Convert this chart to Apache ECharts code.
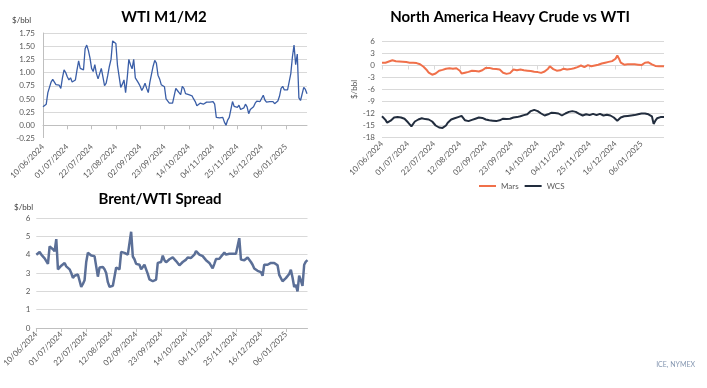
<!DOCTYPE html>
<html><head><meta charset="utf-8">
<script src="https://cdn.jsdelivr.net/npm/echarts@6/dist/echarts.min.js"></script>
<style>html,body{margin:0;padding:0;background:#fff}#c{width:707px;height:388px}</style>
</head><body><div id="c"></div>
<script>
// Business-day categories starting Monday 10/06/2024
const startDate = '2024-06-10';
const nDays = 164;
function businessDays(startIso, count) {
  const out = [];
  const d = new Date(startIso + 'T00:00:00Z');
  while (out.length < count) {
    const wd = d.getUTCDay();
    if (wd !== 0 && wd !== 6) {
      out.push(String(d.getUTCDate()).padStart(2, '0') + '/' + String(d.getUTCMonth() + 1).padStart(2, '0') + '/' + d.getUTCFullYear());
    }
    d.setUTCDate(d.getUTCDate() + 1);
  }
  return out;
}
const categories = businessDays(startDate, nDays);
const wtiYMin = -0.25;

const wtiM1M2 = [
  0.35,0.36,0.40,0.62,0.72,0.82,0.87,0.86,0.77,0.77,
  0.76,0.70,0.90,1.05,1.00,0.92,0.86,0.90,0.82,0.81,
  0.86,1.05,1.22,1.08,1.05,1.05,1.45,1.52,1.42,1.28,
  1.08,1.02,1.15,0.98,0.88,0.86,1.08,0.92,0.75,0.80,
  0.95,1.12,1.25,1.60,1.60,1.55,1.13,1.15,0.72,0.78,
  0.86,0.62,0.90,1.25,1.15,1.07,1.25,0.90,0.87,0.80,
  0.74,0.66,0.72,0.80,0.70,0.62,0.82,0.97,1.12,1.23,
  1.18,0.95,0.88,0.77,0.75,0.73,0.50,0.48,0.42,0.44,
  0.42,0.45,0.70,0.66,0.62,0.58,0.74,0.70,0.60,0.58,
  0.58,0.57,0.56,0.50,0.45,0.37,0.40,0.42,0.40,0.40,
  0.40,0.44,0.43,0.44,0.45,0.45,0.40,0.15,0.12,0.14,
  0.17,0.15,0.06,0.00,0.10,0.15,0.13,0.45,0.36,0.35,
  0.34,0.38,0.30,0.27,0.33,0.40,0.35,0.22,0.30,0.32,
  0.35,0.42,0.46,0.44,0.45,0.48,0.57,0.48,0.44,0.45,
  0.45,0.47,0.45,0.41,0.43,0.46,0.55,0.70,0.74,0.67,
  0.66,0.67,0.65,0.98,1.30,1.52,1.15,1.35,0.52,0.47,
  0.48,0.72,0.68,0.60
];

const mars = [
  0.67,0.6,0.7,0.9,1.0,1.2,1.3,1.1,1.05,1.0,
  1.0,1.0,0.95,0.9,0.85,0.85,0.7,0.7,0.7,0.7,
  0.6,0.55,0.3,0.0,-0.3,-0.6,-1.2,-1.8,-2.2,-2.3,
  -2.2,-2.0,-1.8,-1.3,-1.2,-1.1,-0.9,-0.8,-0.7,-0.7,
  -0.6,-0.8,-0.9,-0.7,-1.0,-1.3,-2.0,-2.2,-1.8,-1.8,
  -1.6,-1.5,-1.3,-1.4,-1.4,-1.4,-1.5,-1.5,-1.2,-0.8,
  -0.6,-0.5,-0.6,-0.7,-0.8,-0.8,-0.9,-0.9,-1.0,-1.3,
  -1.8,-2.3,-2.1,-1.9,-1.9,-1.7,-1.0,-1.0,-1.2,-1.1,
  -1.0,-1.1,-1.2,-1.25,-1.3,-1.4,-1.4,-1.5,-1.55,-1.6,
  -1.65,-1.8,-1.85,-1.6,-1.5,-1.0,-0.8,-0.2,-0.6,-0.9,
  -1.2,-1.3,-1.25,-1.2,-1.0,-0.8,-0.7,-1.0,-1.0,-0.9,
  -0.8,-0.7,-0.6,-0.4,-0.2,0.0,0.2,-0.4,0.0,0.1,
  0.2,-0.2,-0.1,0.0,0.0,0.2,0.4,0.5,0.6,0.7,
  0.8,0.9,1.0,1.1,1.3,1.7,2.5,1.7,0.7,0.3,
  0.2,0.3,0.3,0.3,0.3,0.3,0.3,0.2,0.2,0.0,
  0.1,0.3,0.7,0.8,0.8,0.6,0.3,0.0,-0.1,-0.2,
  -0.2,-0.2,-0.2,-0.2
];

const wcs = [
  -12.7,-13.0,-13.6,-14.3,-14.0,-13.8,-13.4,-13.0,-12.9,-12.9,
  -12.9,-13.0,-13.0,-13.3,-13.7,-14.2,-14.7,-15.2,-15.0,-14.0,
  -13.7,-13.5,-13.4,-13.2,-13.3,-13.4,-13.3,-13.5,-13.75,-14.0,
  -14.3,-15.0,-15.3,-15.5,-15.6,-15.6,-15.7,-15.0,-14.3,-13.8,
  -13.5,-13.4,-13.2,-13.0,-12.9,-12.7,-12.6,-12.3,-13.7,-13.9,
  -13.9,-13.8,-13.6,-13.4,-13.3,-13.3,-13.0,-12.9,-13.1,-13.2,
  -13.5,-13.6,-13.7,-13.8,-13.8,-13.9,-13.9,-13.8,-13.7,-13.7,
  -13.3,-13.5,-13.4,-13.3,-13.3,-13.1,-13.0,-13.0,-12.9,-12.7,
  -12.7,-12.5,-12.4,-12.3,-12.2,-11.8,-11.4,-11.0,-11.1,-11.3,
  -11.4,-11.5,-12.0,-12.5,-12.5,-12.4,-12.2,-12.0,-11.8,-11.9,
  -11.9,-11.9,-12.0,-12.2,-12.5,-12.6,-12.0,-11.8,-11.6,-11.5,
  -11.4,-11.4,-11.6,-11.9,-12.1,-12.3,-12.5,-12.3,-12.2,-12.3,
  -12.4,-12.2,-12.1,-12.3,-12.4,-12.2,-12.1,-12.4,-12.5,-12.4,
  -12.3,-12.3,-12.5,-12.7,-13.0,-13.4,-13.8,-13.3,-13.0,-12.8,
  -12.7,-12.7,-12.6,-12.5,-12.5,-12.5,-12.4,-12.3,-12.2,-12.1,
  -12.0,-11.9,-12.0,-12.1,-12.2,-12.3,-12.7,-14.6,-13.8,-13.2,
  -13.6,-12.9,-12.9,-12.9
];

const brentWti = [
  4.0,4.1,4.15,4.0,3.9,3.8,3.65,3.5,4.45,4.35,
  4.3,4.18,4.85,3.2,3.3,3.4,3.45,3.55,3.36,3.33,
  3.2,3.0,2.73,2.85,2.9,2.92,2.9,2.24,2.4,2.6,
  3.6,4.1,4.1,3.95,3.95,3.92,3.9,2.8,3.3,3.35,
  3.33,3.2,3.0,2.5,2.25,2.27,2.3,2.8,3.3,3.25,
  3.2,4.15,4.22,4.1,4.0,4.0,4.05,5.25,3.9,3.75,
  3.5,3.55,3.45,3.2,3.3,3.45,3.2,2.95,2.65,2.6,
  2.55,2.5,2.64,3.55,3.57,3.6,3.95,3.7,3.58,3.65,
  3.75,3.82,3.85,3.78,3.65,3.55,3.42,3.5,3.6,3.65,
  3.73,3.85,3.8,3.82,3.9,4.0,4.2,4.15,4.0,3.95,
  3.92,3.85,3.7,3.62,3.55,3.45,3.25,3.5,3.76,3.77,
  3.78,3.85,4.0,4.12,4.0,3.93,4.05,4.03,4.05,4.05,
  4.05,4.08,4.9,3.73,3.7,3.7,3.75,3.85,3.78,3.6,
  3.45,3.25,3.18,3.12,3.1,3.05,2.85,3.45,3.45,3.45,
  3.5,3.55,3.62,3.55,3.48,3.42,2.9,2.82,2.55,2.62,
  2.72,2.82,2.95,3.18,2.75,2.24,2.35,2.0,2.85,2.6,
  2.3,3.45,3.62,3.7
];

const FONT = 'Lato, "Liberation Sans", sans-serif';
const labelGray = '#595959';
const gridGray = '#d9d9d9';
const axisGray = '#bfbfbf';

function zeroAxis(gi, color) {
  return {
    gridIndex: gi, type: 'category', data: categories, boundaryGap: false, position: 'bottom',
    axisLine: { show: true, onZero: true, lineStyle: { color: color, width: 1 } },
    axisTick: { show: true, interval: 14, length: 4, lineStyle: { color: color } },
    axisLabel: { show: false }, splitLine: { show: false }
  };
}
function labelAxis(gi, margin, lineColor) {
  return {
    gridIndex: gi, type: 'category', data: categories, boundaryGap: false, position: 'bottom', z: 3,
    axisLine: { show: !!lineColor, onZero: false, lineStyle: { color: lineColor || '#fff', width: 1.2 } }, axisTick: { show: false },
    axisLabel: { interval: 14, rotate: 45, fontSize: 8, color: labelGray, fontFamily: FONT, margin: margin },
    splitLine: { show: false }
  };
}

const chart = echarts.init(document.getElementById('c'), null, { renderer: 'canvas' });
const baseGraphic = [
  { type: 'text', x: 164, y: 17, style: { text: 'WTI M1/M2', align: 'center', verticalAlign: 'middle', font: 'bold 15px ' + FONT, fill: '#000' } },
  { type: 'text', x: 510, y: 17, style: { text: 'North America Heavy Crude vs WTI', align: 'center', verticalAlign: 'middle', font: 'bold 15px ' + FONT, fill: '#000' } },
  { type: 'text', x: 160, y: 199, style: { text: 'Brent/WTI Spread', align: 'center', verticalAlign: 'middle', font: 'bold 15px ' + FONT, fill: '#000' } },
  { type: 'text', x: 12, y: 20, style: { text: '$/bbl', align: 'left', verticalAlign: 'middle', font: '8px ' + FONT, fill: '#404040' } },
  { type: 'text', x: 14, y: 207, style: { text: '$/bbl', align: 'left', verticalAlign: 'middle', font: '8px ' + FONT, fill: '#404040' } },
  { type: 'text', x: 695, y: 365, style: { text: 'ICE, NYMEX', align: 'right', verticalAlign: 'middle', font: '7px ' + FONT, fill: '#8496b0' } }
];
const grids = [
  { left: 43, top: 33, width: 264, height: 105.5 },
  { left: 382, top: 41.5, width: 282, height: 96 },
  { left: 33, top: 218, width: 274.5, height: 110 },
  { left: 43, top: 138, width: 264, height: 0.5 }
];
const option = {
  animation: false,
  backgroundColor: '#fff',
  textStyle: { fontFamily: FONT },
  graphic: baseGraphic,
  legend: {
    data: ['Mars', 'WCS'], left: 474, top: 177, icon: 'rect', itemWidth: 17, itemHeight: 2, itemGap: 6,
    textStyle: { fontSize: 8, color: labelGray, fontFamily: FONT }
  },
  grid: grids,
  xAxis: [
    zeroAxis(0, axisGray),
    labelAxis(3, 7, '#ffffff'),
    zeroAxis(1, gridGray),
    labelAxis(1, 5, null),
    {
      gridIndex: 2, type: 'category', data: categories, boundaryGap: false, position: 'bottom',
      axisLine: { show: true, onZero: true, lineStyle: { color: axisGray } },
      axisTick: { show: true, interval: 14, length: 4, lineStyle: { color: axisGray } },
      axisLabel: { interval: 14, rotate: 45, fontSize: 8, color: labelGray, fontFamily: FONT, margin: 5 },
      splitLine: { show: false }
    }
  ],
  yAxis: [
    {
      gridIndex: 0, type: 'value', min: wtiYMin, max: 1.75, interval: 0.25,
      axisLine: { show: true, onZero: false, lineStyle: { color: axisGray } }, axisTick: { show: false },
      axisLabel: { fontSize: 8, color: labelGray, margin: 8, fontFamily: FONT, showMinLabel: false,
        formatter: v => Number(v).toFixed(2) },
      splitLine: { lineStyle: { color: gridGray } }
    },
    {
      gridIndex: 1, type: 'value', min: -18, max: 6, interval: 3,
      name: '$/bbl', nameLocation: 'middle', nameRotate: 90, nameGap: 24,
      nameTextStyle: { fontSize: 8, color: labelGray, fontFamily: FONT },
      axisLine: { show: false }, axisTick: { show: false },
      axisLabel: { fontSize: 8, color: labelGray, margin: 7, fontFamily: FONT, showMinLabel: true },
      splitLine: { lineStyle: { color: gridGray } }
    },
    {
      gridIndex: 2, type: 'value', min: 0, max: 6, interval: 1,
      axisLine: { show: false }, axisTick: { show: false },
      axisLabel: { fontSize: 8, color: labelGray, margin: 6, fontFamily: FONT, showMinLabel: true },
      splitLine: { lineStyle: { color: gridGray } }
    },
    { gridIndex: 3, type: 'value', show: false, min: 0, max: 1 }
  ],
  series: [
    { name: 'WTI M1/M2', type: 'line', xAxisIndex: 0, yAxisIndex: 0, data: wtiM1M2, showSymbol: false, symbol: 'none',
      lineStyle: { width: 1.3, color: '#3a5ea7' }, itemStyle: { color: '#3a5ea7' } },
    { name: 'Mars', type: 'line', xAxisIndex: 2, yAxisIndex: 1, data: mars, showSymbol: false, symbol: 'none',
      lineStyle: { width: 2, color: '#f0704a' }, itemStyle: { color: '#f0704a' } },
    { name: 'WCS', type: 'line', xAxisIndex: 2, yAxisIndex: 1, data: wcs, showSymbol: false, symbol: 'none',
      lineStyle: { width: 2, color: '#222d3e' }, itemStyle: { color: '#222d3e' } },
    { name: 'Brent/WTI Spread', type: 'line', xAxisIndex: 4, yAxisIndex: 2, data: brentWti, showSymbol: false, symbol: 'none',
      lineStyle: { width: 2.5, color: '#5b6f97' }, itemStyle: { color: '#5b6f97' } }
  ]
};
chart.setOption(option);

// Lowest tick label of the WTI M1/M2 value axis, placed through the chart's own scale
let px = NaN, py = NaN;
try { py = Number(chart.convertToPixel({ yAxisIndex: 0 }, wtiYMin)); } catch (e) {}
try {
  const p = chart.convertToPixel({ xAxisIndex: 0, yAxisIndex: 0 }, [0, wtiYMin]);
  if (p && isFinite(p[0])) px = p[0];
  if (!isFinite(py) && p && isFinite(p[1])) py = p[1];
} catch (e) {}
if (!isFinite(px)) px = grids[0].left;
if (!isFinite(py)) py = grids[0].top + grids[0].height;
chart.setOption({
  graphic: baseGraphic.concat([
    { type: 'text', z: 100, x: px - 8, y: py, style: { text: wtiYMin.toFixed(2), align: 'right', verticalAlign: 'middle', font: '8px ' + FONT, fill: labelGray } }
  ])
});
</script>
</body></html>
